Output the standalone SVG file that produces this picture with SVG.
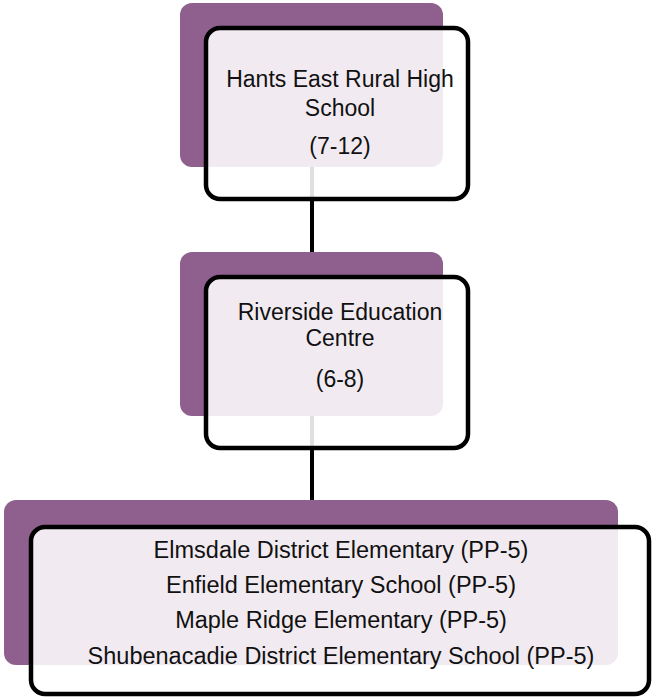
<svg xmlns="http://www.w3.org/2000/svg" width="653" height="698" viewBox="0 0 653 698">
<style>
.bg{fill:#8F5F8E}
.fg{fill:#fff;fill-opacity:0.88;stroke:#000;stroke-width:4.5}
.conn{stroke:#000;stroke-width:4;fill:none}
text{font-family:"Liberation Sans",Arial,sans-serif;font-size:23px;fill:#111;text-anchor:middle}
.small{font-size:23.5px}
</style>
<rect width="653" height="698" fill="#fff"/>
<g id="connectors">
<line class="conn" x1="312" y1="120" x2="312" y2="262"/>
<line class="conn" x1="312" y1="380" x2="312" y2="512"/>
</g>
<g id="node-hants">
<rect class="bg" x="180" y="3" width="263" height="164" rx="12"/>
<rect class="fg" x="206" y="28" width="262" height="171" rx="14"/>
<text x="340" y="87">Hants East Rural High</text>
<text x="340" y="116">School</text>
<text x="340" y="154">(7-12)</text>
</g>
<g id="node-riverside">
<rect class="bg" x="180" y="252" width="263" height="164" rx="12"/>
<rect class="fg" x="206" y="277" width="262" height="171" rx="14"/>
<text x="340" y="320">Riverside Education</text>
<text x="340" y="346">Centre</text>
<text x="340" y="387">(6-8)</text>
</g>
<g id="node-elementary">
<rect class="bg" x="4" y="500" width="614" height="165" rx="12"/>
<rect class="fg" x="31" y="527" width="618" height="167" rx="14"/>
<text class="small" x="341" y="558">Elmsdale District Elementary (PP-5)</text>
<text class="small" x="341" y="593">Enfield Elementary School (PP-5)</text>
<text class="small" x="341" y="628">Maple Ridge Elementary (PP-5)</text>
<text class="small" x="341" y="664">Shubenacadie District Elementary School (PP-5)</text>
</g>
</svg>
